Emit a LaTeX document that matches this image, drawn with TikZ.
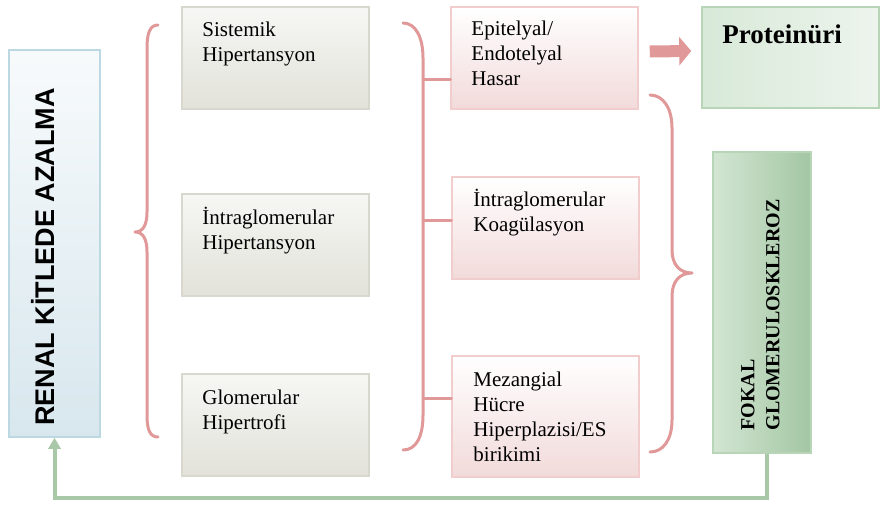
\documentclass[tikz,border=0pt]{standalone}
\usepackage{fontspec}
\setmainfont{Liberation Serif}
\setsansfont{Liberation Sans}
\usetikzlibrary{arrows.meta, calc}
\definecolor{greyline}{HTML}{D8D8CF}
\definecolor{greyfill}{HTML}{E2E2DA}
\definecolor{pinkline}{HTML}{F2CDCD}
\definecolor{pinkfill}{HTML}{F2DADA}
\definecolor{blueline}{HTML}{BCD8E2}
\definecolor{bluefill}{HTML}{D8E7EE}
\definecolor{greenline}{HTML}{B8D5B8}
\definecolor{greenmid}{HTML}{EDF4ED}
\definecolor{greendark}{HTML}{A3C6A3}
\definecolor{greenlight}{HTML}{D8E9D8}
\definecolor{bracered}{HTML}{E09898}
\definecolor{backgreen}{HTML}{A8C8A8}

\begin{document}
\begin{tikzpicture}[x=1pt, y=-1pt,
    greybox/.style={draw=greyline, line width=1.5pt, top color=white!70!greyfill, bottom color=greyfill,
        minimum width=187pt, minimum height=102pt, inner sep=0pt},
    pinkbox/.style={draw=pinkline, line width=1.5pt, top color=white, bottom color=pinkfill,
        minimum width=187pt, inner sep=0pt},
    lbl/.style={font=\fontsize{21}{25}\selectfont, align=left, anchor=north west, inner sep=0pt},
    brace/.style={draw=bracered, line width=3pt, line cap=round, line join=round},
    blockarr/.style={draw=bracered, line width=12pt, -{Triangle[length=12pt, width=28pt]}},
    back/.style={draw=backgreen, line width=4pt, -{Triangle[length=11pt, width=12pt]}}]
    \useasboundingbox (0,0) rectangle (882,505);

    % left column
    \node[draw=blueline, line width=1.5pt, top color=white!80!bluefill, bottom color=bluefill,
        minimum width=91pt, minimum height=387pt, inner sep=0pt] (renal) at (54.5,243.5) {};
    \node[rotate=90, anchor=base west, inner sep=0pt, font=\sffamily\bfseries\fontsize{27}{32}\selectfont]
        (renalT) at ([shift={(46,-12)}]renal.south west) {RENAL KİTLEDE AZALMA};

    % grey boxes
    \node[greybox] (sis) at (275.5,58) {};
    \node[greybox] (ihip) at (275.5,245) {};
    \node[greybox] (glom) at (275.5,425) {};
    \node[lbl] (sisT) at ([shift={(21,12.5)}]sis.north west) {\strut Sistemik\\Hipertansyon};
    \node[lbl] (ihipT) at ([shift={(21,14)}]ihip.north west) {\strut İntraglomerular\\Hipertansyon};
    \node[lbl] (glomT) at ([shift={(21,13.5)}]glom.north west) {\strut Glomerular\\Hipertrofi};

    % pink boxes
    \node[pinkbox, minimum height=102pt] (epi) at (544.5,58) {};
    \node[pinkbox, minimum height=102pt] (koag) at (545.5,228) {};
    \node[pinkbox, minimum height=121pt] (mez) at (545.5,416.5) {};
    \node[lbl] (epiT) at ([shift={(21,11.5)}]epi.north west) {\strut Epitelyal/\\Endotelyal\\Hasar};
    \node[lbl] (koagT) at ([shift={(22,12.5)}]koag.north west) {\strut İntraglomerular\\Koagülasyon};
    \node[lbl] (mezT) at ([shift={(22,13.5)}]mez.north west) {\strut Mezangial\\Hücre\\Hiperplazisi/ES\\birikimi};

    % green boxes
    \node[draw=greenline, line width=1.5pt, left color=greenlight, right color=greenmid,
        minimum width=177pt, minimum height=101pt, inner sep=0pt] (prot) at (790.5,57.5) {};
    \node[anchor=base west, inner sep=0pt, font=\bfseries\fontsize{27}{32}\selectfont]
        (protT) at ([shift={(21,37)}]prot.north west) {Proteinüri};
    \node[draw=greenline, line width=1.5pt, left color=greenlight!90!greendark, middle color=greenmid,
        right color=greendark, minimum width=98pt, minimum height=301pt, inner sep=0pt] (fokal) at (762,302.5) {};
    \node[rotate=90, anchor=north west, align=left, inner sep=0pt, font=\bfseries\fontsize{20}{25}\selectfont]
        (fokalT) at ([shift={(24.5,-23)}]fokal.south west) {\strut FOKAL\\GLOMERULOSKLEROZ};

    % braces
    \draw[brace] (158,25) .. controls (150,25) and (147,33) .. (147,48) -- (147,212)
        .. controls (147,225) and (143,232) .. (135,232) .. controls (143,232) and (147,239) .. (147,252)
        -- (147,415) .. controls (147,430) and (150,437) .. (158,437);
    \draw[brace] (403,23) .. controls (416,23) and (423,38) .. (423,58) -- (423,415)
        .. controls (423,437) and (416,450) .. (403,450);
    \draw[brace] (650,95) .. controls (663,95) and (672,108) .. (672,128) -- (672,250)
        .. controls (672,265) and (680,273) .. (692,273) .. controls (680,273) and (672,281) .. (672,296)
        -- (672,420) .. controls (672,440) and (663,452) .. (650,452);

    % branches to the pink boxes
    \coordinate (jA) at (423,80);
    \coordinate (jB) at (423,220);
    \coordinate (jC) at (423,398);
    \draw[brace] (jA) -- (jA -| epi.west);
    \draw[brace] (jB) -- (jB -| koag.west);
    \draw[brace] (jC) -- (jC -| mez.west);

    % arrows
    \draw[blockarr] ([shift={(11,-6.5)}]epi.east) -- ([shift={(-10,-6.5)}]prot.west);
    \draw[back] ([xshift=5pt]fokal.south) -- ++(0,44) -| (renal.south);
\end{tikzpicture}
\end{document}
